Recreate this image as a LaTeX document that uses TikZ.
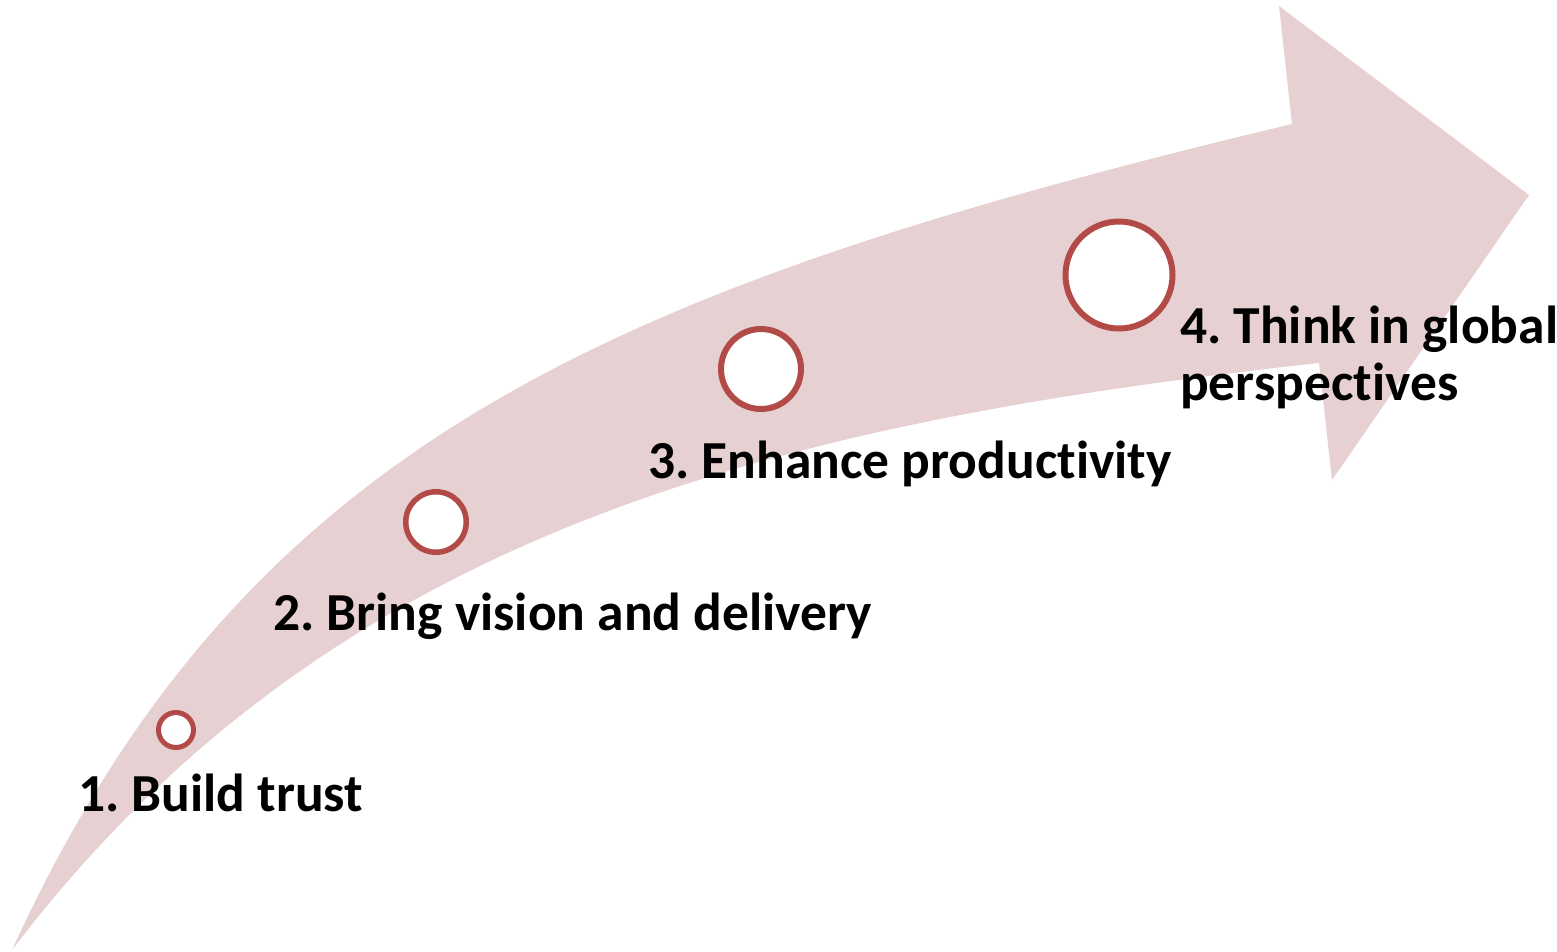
\documentclass[tikz,border=0pt]{standalone}
\usepackage{fontspec}
\setmainfont{Carlito}[RawFeature=-liga]
\definecolor{arrowpink}{RGB}{231,208,209}
\definecolor{ringred}{RGB}{178,74,72}
\tikzset{
  stepring/.style={circle, draw=ringred, fill=white, inner sep=0pt},
  steplabel/.style={anchor=base west, inner sep=0pt, text=black,
    font=\fontsize{53.5}{57}\selectfont\bfseries\frenchspacing, align=left},
}
\begin{document}
\begin{tikzpicture}[x=1pt,y=-1pt]
\useasboundingbox (0,0) rectangle (1557,951);
% curved arrow body
\fill[arrowpink] (12,950)
  .. controls (245,441) and (612,287) .. (1292,124)
  -- (1279,6) -- (1529,195) -- (1332,480) -- (1319,363)
  .. controls (762,424) and (327,536) .. (12,950) -- cycle;
% step markers
\node[stepring, line width=5pt, minimum size=35pt] (c1) at (176,730) {};
\node[stepring, line width=5.5pt, minimum size=60.5pt] (c2) at (436,522) {};
\node[stepring, line width=6pt, minimum size=80pt] (c3) at (761,369) {};
\node[stepring, line width=6pt, minimum size=107pt] (c4) at (1119,275) {};
% labels
\node[steplabel] (t1) at (78,811) {1. Build trust};
\node[steplabel] (t2) at (273,630) {2. Bring vision and delivery};
\node[steplabel] (t3) at (648,478) {3. Enhance productivity};
\node[steplabel] (t4) at (1180,400) {4. Think in global\\perspectives};
\end{tikzpicture}
\end{document}
